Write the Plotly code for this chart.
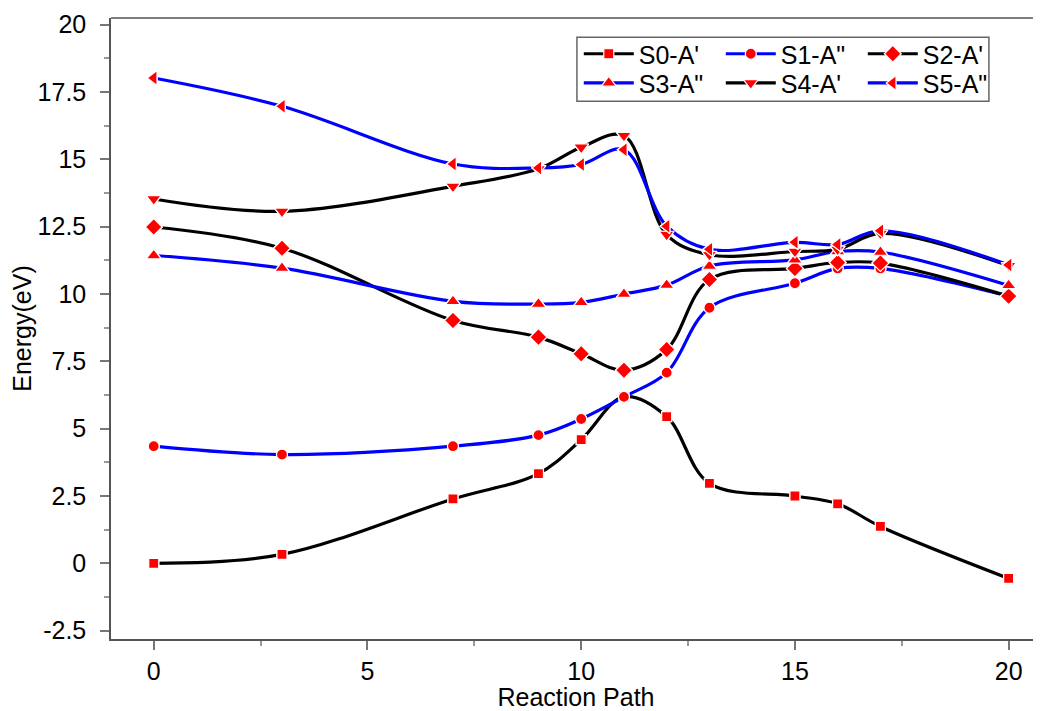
import plotly.graph_objects as go

x_path = [0, 3, 7, 9, 10, 11, 12, 13, 15, 16, 17, 20]

s0 = [0.00, 0.33, 2.39, 3.33, 4.59, 6.18, 5.45, 2.97, 2.50, 2.21, 1.37, -0.56]
s1 = [4.35, 4.04, 4.35, 4.76, 5.36, 6.18, 7.08, 9.49, 10.40, 10.95, 10.95, 9.92]
s2 = [12.49, 11.70, 9.02, 8.40, 7.78, 7.17, 7.94, 10.54, 10.95, 11.17, 11.15, 9.92]
s3 = [11.43, 10.96, 9.73, 9.63, 9.69, 10.00, 10.33, 11.04, 11.27, 11.58, 11.56, 10.32]
s4 = [13.53, 13.07, 14.00, 14.65, 15.45, 15.88, 12.21, 11.46, 11.58, 11.66, 12.25, 11.05]
s5 = [18.02, 16.97, 14.83, 14.68, 14.81, 15.36, 12.52, 11.66, 11.92, 11.84, 12.35, 11.08]

names = ["S0-A'", 'S1-A"', "S2-A'", 'S3-A"', "S4-A'", 'S5-A"']
series = [s0, s1, s2, s3, s4, s5]
line_colors = ["#000000", "#0000FF", "#000000", "#0000FF", "#000000", "#0000FF"]
symbols = ["square", "circle", "diamond", "triangle-up", "triangle-down", "triangle-left"]
sizes = [10, 11, 13, 13, 13, 13]
legends = ["legend", "legend", "legend", "legend2", "legend2", "legend2"]

FONT = "Arial, Liberation Sans, sans-serif"

fig = go.Figure()

# lines (with legend entries)
for name, ys, col, sym, sz, lg in zip(names, series, line_colors, symbols, sizes, legends):
    fig.add_trace(go.Scatter(
        x=x_path, y=ys, name=name, mode="lines+markers",
        line=dict(color=col, width=3.2, shape="spline", smoothing=1.0),
        marker=dict(symbol=sym, size=sz, color="#FF0000",
                    line=dict(color="white", width=1.2)),
        legend=lg, hoverinfo="skip",
    ))

# markers on top of all lines
for name, ys, sym, sz in zip(names, series, symbols, sizes):
    fig.add_trace(go.Scatter(
        x=x_path, y=ys, mode="markers", showlegend=False,
        marker=dict(symbol=sym, size=sz, color="#FF0000",
                    line=dict(color="white", width=1.2)),
        hoverinfo="skip",
    ))

axis_common = dict(
    showline=True, linecolor="#555555", linewidth=1.5,
    ticks="outside", ticklen=9, tickwidth=1.5, tickcolor="#777777",
    showgrid=False, zeroline=False, automargin=False,
    tickfont=dict(family=FONT, size=25, color="#000000"),
)

fig.update_layout(
    width=1033, height=703,
    margin=dict(l=103, r=0, t=10, b=72),
    paper_bgcolor="white", plot_bgcolor="white",
    font=dict(family=FONT, color="#000000"),
    xaxis=dict(
        range=[-1, 20.757], tickvals=[0, 5, 10, 15, 20],
        minor=dict(ticks="outside", ticklen=5, tickwidth=1.5, tickcolor="#999999",
                   dtick=2.5, tick0=0, showgrid=False),
        title=dict(text="Reaction Path", font=dict(family=FONT, size=25), standoff=0),
        ticklabelstandoff=0,
        **axis_common,
    ),
    yaxis=dict(
        range=[-2.81, 20.25], tickvals=[-2.5, 0, 2.5, 5, 7.5, 10, 12.5, 15, 17.5, 20],
        ticktext=["-2.5", "0", "2.5", "5", "7.5", "10", "12.5", "15", "17.5", "20"],
        minor=dict(ticks="outside", ticklen=5, tickwidth=1.5, tickcolor="#999999",
                   dtick=1.25, tick0=0, showgrid=False),
        title=dict(text="Energy(eV)", font=dict(family=FONT, size=25), standoff=4),
        ticklabelstandoff=9,
        **axis_common,
    ),
    legend=dict(
        orientation="h", x=0.503, xanchor="left", y=0.942, yanchor="middle",
        bgcolor="rgba(0,0,0,0)", borderwidth=0, entrywidth=77,
        font=dict(family=FONT, size=25), itemwidth=50, tracegroupgap=0,
    ),
    legend2=dict(
        orientation="h", x=0.503, xanchor="left", y=0.895, yanchor="middle",
        bgcolor="rgba(0,0,0,0)", borderwidth=0, entrywidth=77,
        font=dict(family=FONT, size=25), itemwidth=50, tracegroupgap=0,
    ),
    shapes=[
        dict(type="line", xref="paper", yref="paper", x0=0, x1=1, y0=1, y1=1,
             line=dict(color="#555555", width=1.5)),
        dict(type="rect", xref="paper", yref="paper", x0=0.501, x1=0.944,
             y0=0.866, y1=0.969, line=dict(color="#666666", width=1.5),
             fillcolor="rgba(0,0,0,0)"),
    ],
)

fig.write_html("out.html")
